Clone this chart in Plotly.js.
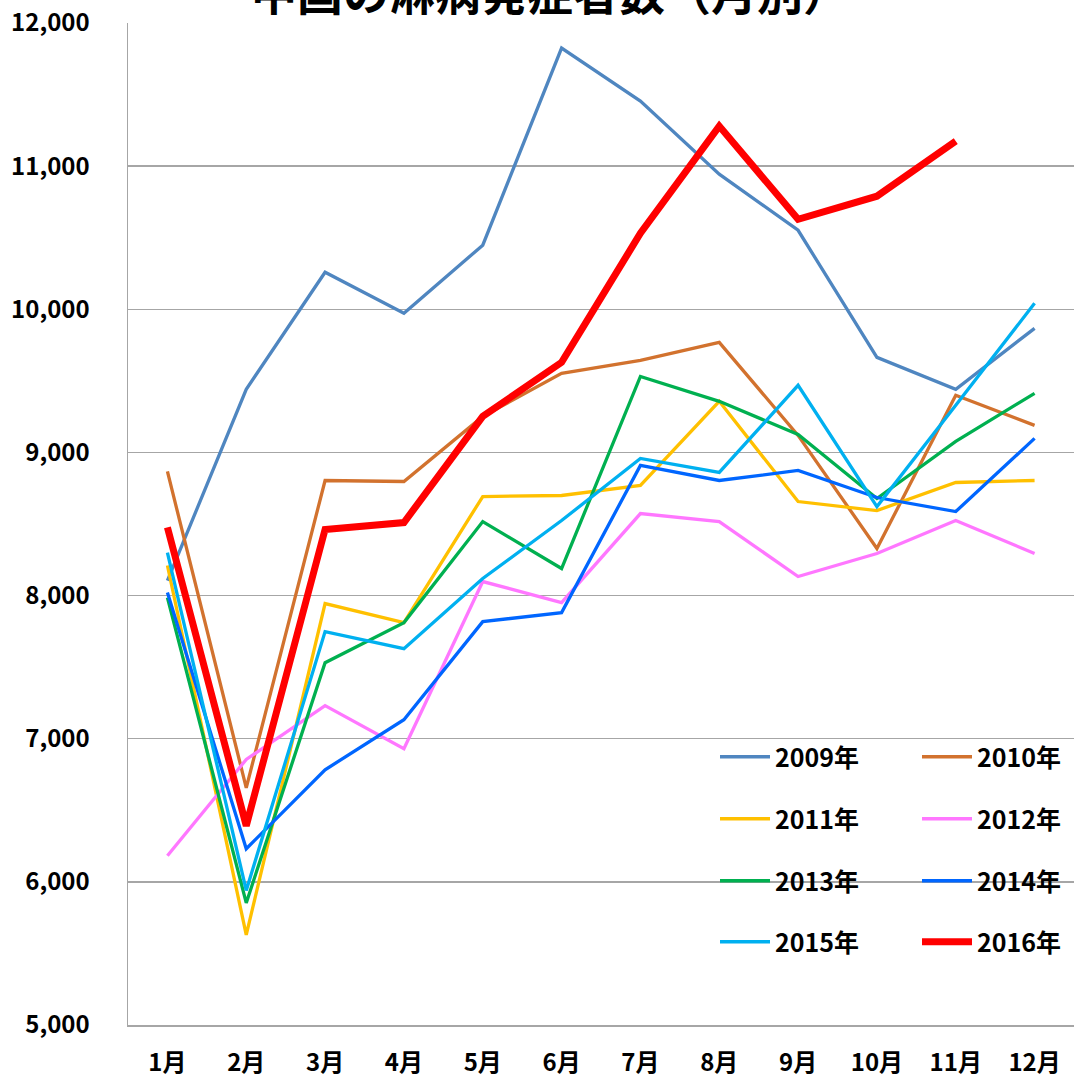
<!DOCTYPE html>
<html>
<head>
<meta charset="utf-8">
<script src="https://cdn.plot.ly/plotly-3.0.1.min.js"></script>
<style>html,body{margin:0;padding:0;background:#fff;}#chart{width:1074px;height:1078px;}</style>
</head>
<body>
<div id="chart"></div>
<script>
const months = ['1月','2月','3月','4月','5月','6月','7月','8月','9月','10月','11月','12月'];
const seriesNames = ['2009年','2010年','2011年','2012年','2013年','2014年','2015年','2016年'];
const y2009 = [8105, 9441, 10259, 9972, 10448, 11825, 11455, 10944, 10552, 9664, 9441, 9867];
const y2010 = [8867, 6657, 8804, 8797, 9252, 9552, 9643, 9769, 9119, 8329, 9399, 9189];
const y2011 = [8210, 5629, 7944, 7811, 8692, 8699, 8769, 9357, 8657, 8594, 8790, 8804];
const y2012 = [6182, 6855, 7231, 6930, 8098, 7951, 8573, 8517, 8133, 8294, 8524, 8294];
const y2013 = [7986, 5853, 7531, 7811, 8517, 8189, 9531, 9357, 9126, 8678, 9077, 9413];
const y2014 = [8021, 6231, 6783, 7133, 7818, 7881, 8909, 8804, 8874, 8685, 8587, 9098];
const y2015 = [8300, 5940, 7748, 7629, 8119, 8524, 8958, 8860, 9469, 8622, 9329, 10042];
const y2016 = [8476, 6392, 8462, 8510, 9252, 9629, 10531, 11280, 10629, 10790, 11175, null];
const yTickVals = [5000, 6000, 7000, 8000, 9000, 10000, 11000, 12000];

const allY = [y2009, y2010, y2011, y2012, y2013, y2014, y2015, y2016];
const colors = ['#4f86c0', '#d2722e', '#ffc000', '#ff77ff', '#00b050', '#0066ff', '#00b0f0', '#ff0000'];
const widths = [3.3, 3.3, 3.3, 3.3, 3.3, 3.3, 3.3, 7];
const legendIds = ['legend','legend2','legend3','legend4','legend5','legend6','legend7','legend8'];

const W = 1074, H = 1078;
const font = "'Noto Sans CJK JP', 'Noto Sans', sans-serif";

const traces = allY.map((ys, i) => ({
  type: 'scatter', mode: 'lines', x: months, y: ys, name: seriesNames[i],
  line: {color: colors[i], width: widths[i]},
  legend: legendIds[i], showlegend: true, connectgaps: false,
  hoverinfo: 'skip'
}));

// legend positions (px): two columns, four rows
const colX = [715, 917];
const rowY = [757, 819, 881, 942];
const layout = {
  width: W, height: H,
  margin: {l: 128, r: 0, t: 23, b: 53, pad: 0, autoexpand: false},
  paper_bgcolor: '#ffffff', plot_bgcolor: '#ffffff',
  font: {family: font, color: '#000000', size: 24, weight: 700},
  title: {text: '<b>中国の淋病発症者数（月別）</b>', font: {family: font, size: 46, color: '#000'},
          xref: 'container', yref: 'paper', x: 0.512, xanchor: 'center', y: 1, yanchor: 'bottom',
          pad: {b: 13, t: 0, l: 0, r: 0}, automargin: false},
  xaxis: {
    type: 'category', range: [-0.5, 11.5], showgrid: false, zeroline: false,
    showline: true, linecolor: '#a6a6a6', linewidth: 1.5,
    ticks: '', ticklabelstandoff: 16, tickangle: 0, automargin: false,
    tickfont: {family: font, size: 24, color: '#000', weight: 700}
  },
  yaxis: {
    range: [5000, 12000], tickvals: yTickVals, tickformat: ',d', automargin: false,
    showgrid: true, gridcolor: '#a6a6a6', gridwidth: 1.5, zeroline: false,
    showline: true, linecolor: '#a6a6a6', linewidth: 1.5,
    ticks: '', ticklabelstandoff: 32,
    tickfont: {family: font, size: 24, color: '#000', weight: 700}
  },
  shapes: [{
    type: 'rect', xref: 'paper', yref: 'paper', layer: 'between',
    x0: (688 - 128) / 946, x1: 1.0, y0: (1025 - 972) / 1002, y1: (1025 - 725) / 1002,
    fillcolor: '#ffffff', line: {width: 0}
  }]
};
legendIds.forEach((id, i) => {
  const col = i % 2, row = Math.floor(i / 2);
  layout[id] = {
    xref: 'container', yref: 'container',
    x: colX[col] / W, y: 1 - rowY[row] / H, xanchor: 'left', yanchor: 'middle',
    bgcolor: 'rgba(0,0,0,0)', borderwidth: 0, itemwidth: 50,
    font: {family: font, size: 25, color: '#000', weight: 700}
  };
});

Plotly.newPlot('chart', traces, layout, {displayModeBar: false, staticPlot: true});
</script>
</body>
</html>
